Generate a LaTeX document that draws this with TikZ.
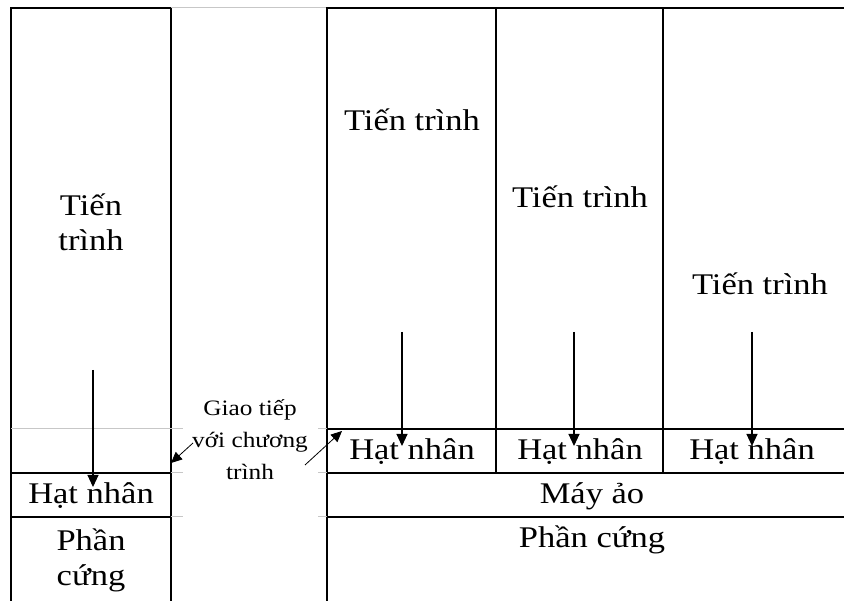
\documentclass[tikz,border=0pt]{standalone}
\usepackage{fontspec}
\setmainfont[FakeStretch=1.15]{Liberation Serif}
\usetikzlibrary{arrows.meta}

\begin{document}
\begin{tikzpicture}[x=1pt, y=-1pt, font=\fontsize{30}{35}\selectfont,
    ln/.style={line width=1.3pt},
    gridln/.style={line width=1pt, black!22},
    txt/.style={align=center, inner sep=0pt},
    arr/.style={line width=1.1pt, -{Triangle[length=12pt, width=11pt]}},
    thinarr/.style={line width=0.8pt, -{Triangle[length=11pt, width=10pt]}}]
  \useasboundingbox (0,0) rectangle (844,601);
  % khung
  \draw[ln] (11,601) -- (11,8) -- (171,8) -- (171,601);
  \draw[gridln] (171,8) -- (327,8);
  \draw[ln] (327,601) -- (327,8) -- (844,8);
  \draw[ln] (496,8) -- (496,473) (663,8) -- (663,473);
  \draw[ln] (11,473) -- (171,473) (11,517) -- (171,517);
  \draw[ln] (327,429) -- (844,429) (327,473) -- (844,473) (327,517) -- (844,517);
  % duong luoi mo
  \draw[gridln] (11,429) -- (183,429) (171,473) -- (183,473) (171,517) -- (183,517);
  \draw[gridln] (318,429) -- (327,429) (318,473) -- (327,473) (318,517) -- (327,517);
  % chu
  \node[txt] (tt0) at (91,222) {Tiến\\trình};
  \node[txt] (tt1) at (412,120) {Tiến trình};
  \node[txt] (tt2) at (580,197) {Tiến trình};
  \node[txt] (tt3) at (760,284) {Tiến trình};
  \node[txt] (hn0) at (91,496) {Hạt nhân};
  \node[txt] (hn1) at (412,452) {Hạt nhân};
  \node[txt] (hn2) at (580,452) {Hạt nhân};
  \node[txt] (hn3) at (752,452) {Hạt nhân};
  \node[txt] (may) at (592,496) {Máy ảo};
  \node[txt] (pc0) at (91,560) {Phần\\cứng};
  \node[txt] (pc1) at (592,540) {Phần cứng};
  \node[txt, font=\fontsize{22}{32}\selectfont] (gt) at (250,440) {Giao tiếp\\với chương\\trình};
  % mui ten
  \coordinate (a0) at (93,370);
  \coordinate (a1) at (402,332);
  \coordinate (a2) at (574,332);
  \coordinate (a3) at (752,332);
  \draw[arr] (a0) -- (93,487);
  \draw[arr] (a1) -- (402,446);
  \draw[arr] (a2) -- (574,446);
  \draw[arr] (a3) -- (752,446);
  \coordinate (gl) at (193,443);
  \coordinate (gr) at (305,465);
  \draw[thinarr] (gl) -- (171,463);
  \draw[thinarr] (gr) -- (342,431);
\end{tikzpicture}
\end{document}
